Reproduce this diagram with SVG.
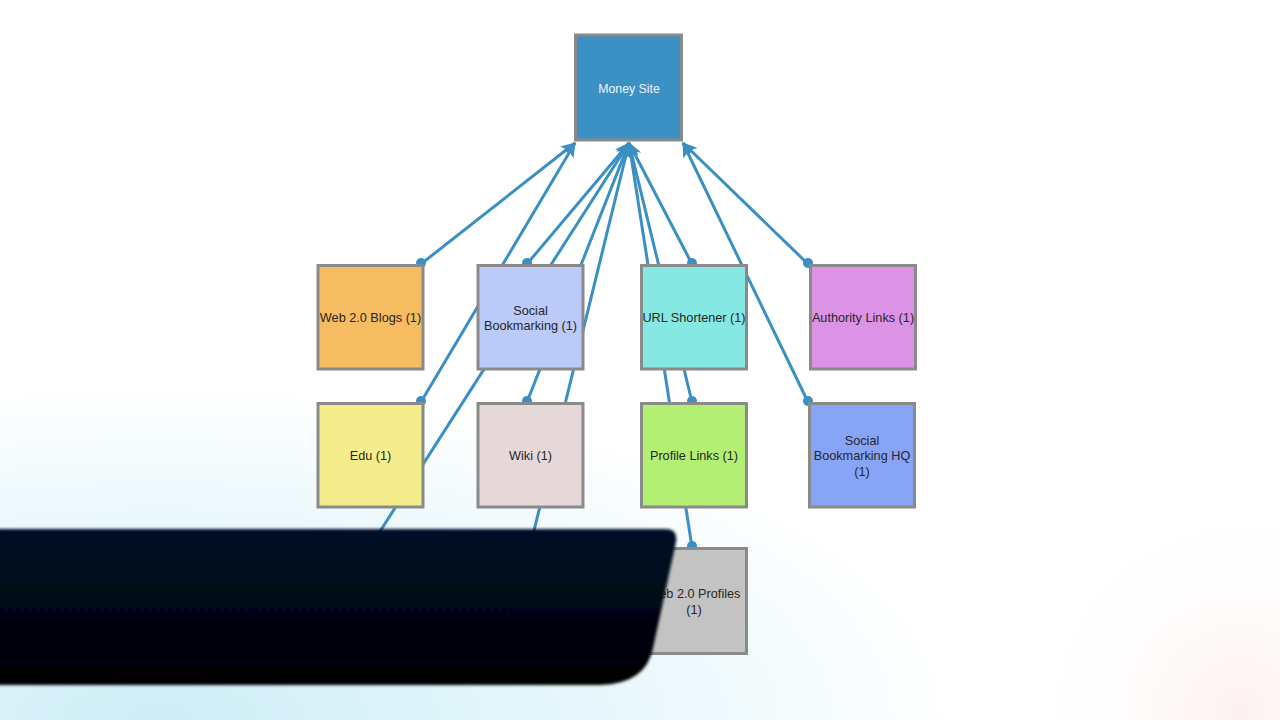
<svg xmlns="http://www.w3.org/2000/svg" width="1280" height="720" viewBox="0 0 1280 720">
<style>
.node rect{stroke:#8a8a8a;stroke-width:3}
.lbl{font-family:"Liberation Sans",Arial,sans-serif;font-size:12.7px;fill:#262626;text-anchor:middle}
.conn line{stroke:#3a8fc3;stroke-width:3}
.conn circle{fill:#3a8fc3}
</style>
<defs>
<marker id="arr" markerUnits="userSpaceOnUse" markerWidth="15" markerHeight="13" refX="14" refY="6.5" orient="auto">
<path d="M0,0 L15,6.5 L0,13 L3.5,6.5 Z" fill="#3a8fc3"/>
</marker>
<radialGradient id="glow" cx="160" cy="720" r="800" gradientUnits="userSpaceOnUse" gradientTransform="translate(160 720) scale(1 0.42) translate(-160 -720)">
<stop offset="0" stop-color="#cdeef7"/>
<stop offset="0.55" stop-color="#e8f7fb"/>
<stop offset="1" stop-color="#ffffff"/>
</radialGradient>
<radialGradient id="pink" cx="1240" cy="710" r="220" gradientUnits="userSpaceOnUse">
<stop offset="0" stop-color="#fdf1f1"/>
<stop offset="1" stop-color="#ffffff" stop-opacity="0"/>
</radialGradient>
<linearGradient id="dark" x1="0" y1="0" x2="0" y2="1">
<stop offset="0" stop-color="#030d26"/>
<stop offset="1" stop-color="#000002"/>
</linearGradient>
<filter id="soft" x="-5%" y="-5%" width="110%" height="110%"><feGaussianBlur stdDeviation="1.8"/></filter>
</defs>
<rect width="1280" height="720" fill="#ffffff"/>
<rect width="1280" height="720" fill="url(#glow)"/>
<rect width="1280" height="720" fill="url(#pink)"/>

<g id="connectors" class="conn">
<line x1="421" y1="264" x2="575" y2="143" marker-end="url(#arr)"/>
<line x1="421" y1="402" x2="575" y2="143" marker-end="url(#arr)"/>
<line x1="370" y1="547" x2="629" y2="143" marker-end="url(#arr)"/>
<line x1="527" y1="264" x2="629" y2="143" marker-end="url(#arr)"/>
<line x1="527" y1="402" x2="629" y2="143" marker-end="url(#arr)"/>
<line x1="530" y1="547" x2="629" y2="143" marker-end="url(#arr)"/>
<line x1="692" y1="264" x2="629" y2="143" marker-end="url(#arr)"/>
<line x1="692" y1="402" x2="629" y2="143" marker-end="url(#arr)"/>
<line x1="692" y1="547" x2="629" y2="143" marker-end="url(#arr)"/>
<line x1="808" y1="264" x2="683" y2="143" marker-end="url(#arr)"/>
<line x1="808" y1="402" x2="683" y2="143" marker-end="url(#arr)"/>
<circle cx="421" cy="263" r="5"/>
<circle cx="421" cy="401" r="5"/>
<circle cx="527" cy="263" r="5"/>
<circle cx="527" cy="401" r="5"/>
<circle cx="692" cy="263" r="5"/>
<circle cx="692" cy="401" r="5"/>
<circle cx="692" cy="546" r="5"/>
<circle cx="808" cy="263" r="5"/>
<circle cx="808" cy="401" r="5"/>
</g>

<g id="money-site" class="node">
<rect x="575.5" y="35" width="106" height="105" fill="#3b90c4"/>
<text class="lbl" x="629" y="92.5" style="fill:#eef4fa;font-size:12.3px">Money Site</text>
</g>
<g id="web20-blogs" class="node">
<rect x="318" y="265.5" width="105" height="103.5" fill="#f5bc62"/>
<text class="lbl" x="370.5" y="322">Web 2.0 Blogs (1)</text>
</g>
<g id="social-bookmarking" class="node">
<rect x="478" y="265.5" width="105" height="103.5" fill="#bccafa"/>
<text class="lbl" x="530.5" y="314.5">Social</text>
<text class="lbl" x="530.5" y="330">Bookmarking (1)</text>
</g>
<g id="url-shortener" class="node">
<rect x="641.5" y="265.5" width="105" height="103.5" fill="#86e8e2"/>
<text class="lbl" x="694" y="322">URL Shortener (1)</text>
</g>
<g id="authority-links" class="node">
<rect x="810.5" y="265.5" width="105" height="103.5" fill="#dc93e6"/>
<text class="lbl" x="863" y="322">Authority Links (1)</text>
</g>
<g id="edu" class="node">
<rect x="318" y="403.5" width="105" height="103.5" fill="#f5ec8c"/>
<text class="lbl" x="370.5" y="460">Edu (1)</text>
</g>
<g id="wiki" class="node">
<rect x="478" y="403.5" width="105" height="103.5" fill="#e6d8d8"/>
<text class="lbl" x="530.5" y="460">Wiki (1)</text>
</g>
<g id="profile-links" class="node">
<rect x="641.5" y="403.5" width="105" height="103.5" fill="#b2ef72"/>
<text class="lbl" x="694" y="460">Profile Links (1)</text>
</g>
<g id="social-bookmarking-hq" class="node">
<rect x="809.5" y="403.5" width="105" height="103.5" fill="#88a4f6"/>
<text class="lbl" x="862" y="445">Social</text>
<text class="lbl" x="862" y="460">Bookmarking HQ</text>
<text class="lbl" x="862" y="476">(1)</text>
</g>
<g id="web20-profiles" class="node">
<rect x="641.5" y="548.5" width="105" height="105" fill="#c3c3c3"/>
<text class="lbl" x="694" y="598">Web 2.0 Profiles</text>
<text class="lbl" x="694" y="614">(1)</text>
</g>

<path d="M-10,529 H666 Q678,529 676,542 L653,648 Q646,684 600,685 H-10 Z" fill="url(#dark)" filter="url(#soft)"/>
</svg>
